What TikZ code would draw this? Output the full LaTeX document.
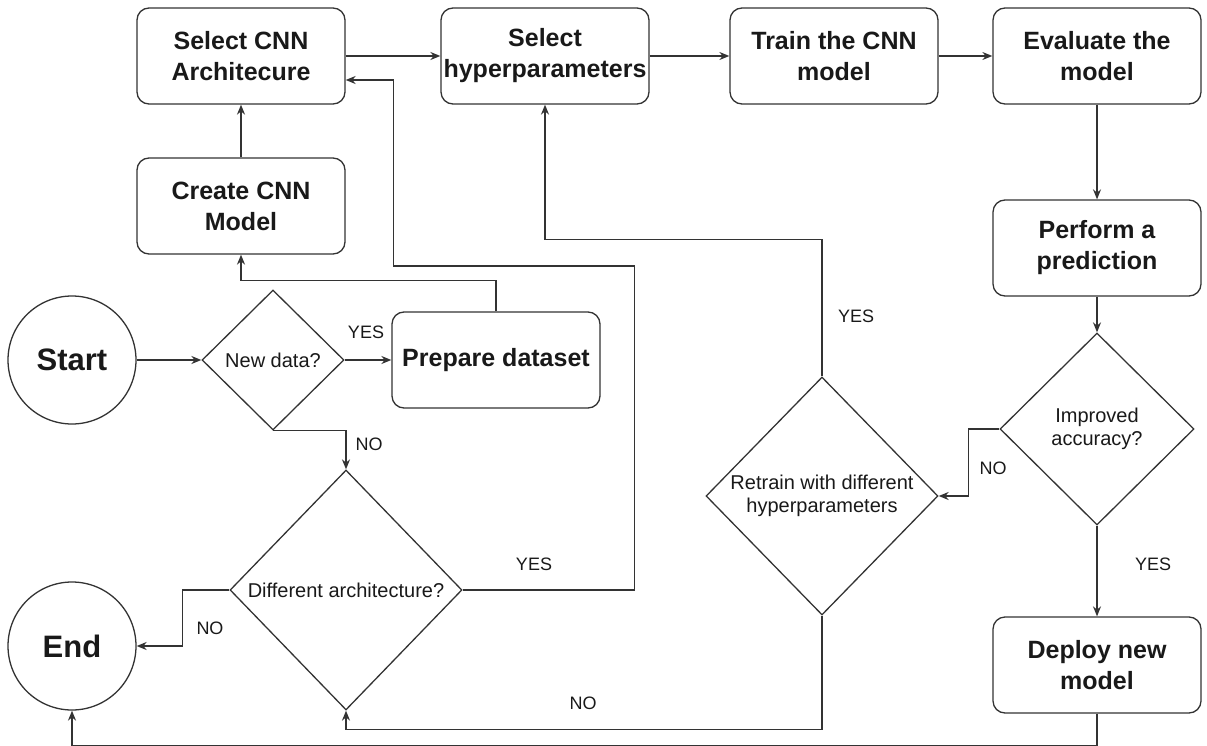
\documentclass[tikz,border=0pt]{standalone}
\usepackage{fontspec}
\setmainfont{Liberation Sans}
\usetikzlibrary{shapes.geometric,arrows.meta,calc}
\begin{document}
\begin{tikzpicture}[x=1pt,y=-1pt,
  line width=1.3pt,
  every node/.style={text=black!90},
  proc/.style={draw=black!80, rounded corners=12pt, minimum width=208pt, minimum height=96pt,
    align=center, font=\fontsize{25}{31}\selectfont\bfseries, inner sep=0pt},
  term/.style={draw=black!80, circle, minimum size=128pt, inner sep=0pt,
    font=\fontsize{31}{37}\selectfont\bfseries},
  dec/.style={draw=black!80, diamond, inner sep=0pt},
  dectext/.style={align=center, font=\fontsize{20}{23}\selectfont},
  lbl/.style={font=\fontsize{18}{22}\selectfont},
  flow/.style={draw=black!80, -{Stealth[length=10pt,width=8pt]}},
]
\useasboundingbox (0,0) rectangle (1207,746);

% process boxes
\node[proc] (selarch) at (241,56)  {Select CNN\\Architecure};
\node[proc] (selhyp)  at (545,56)  {Select\\hyperparameters};
\node[proc] (train)   at (834,56)  {Train the CNN\\model};
\node[proc] (eval)    at (1097,56) {Evaluate the\\model};
\node[proc] (create)  at (241,206) {Create CNN\\Model};
\node[proc] (perform) at (1097,248) {Perform a\\prediction};
\node[proc] (prep)    at (496,360) {Prepare dataset};
\node[proc] (deploy)  at (1097,665) {Deploy new\\model};

% terminals
\node[term] (start) at (72,360) {Start};
\node[term] (end)   at (72,646) {End};

% decisions
\node[dec, minimum width=142pt, minimum height=140pt] (newd) at (273,360) {};
\node[dectext] (newdt) at (newd) {New data?};
\node[dec, minimum width=232pt, minimum height=240pt] (diff) at (346,590) {};
\node[dectext] (difft) at (diff) {Different architecture?};
\node[dec, minimum width=194pt, minimum height=192pt] (impr) at (1097,429) {};
\node[dectext] (imprt) at (impr) {Improved\\accuracy?};
\node[dec, minimum width=232pt, minimum height=238pt] (retrain) at (822,496) {};
\node[dectext] (retraint) at (retrain) {Retrain with different\\hyperparameters};

% connectors
\draw[flow] (start) -- (newd);
\draw[flow] (newd) -- (prep);
\draw[flow] (newd.south) -| (diff.north);
\draw[flow] (prep.north) -- ++(0,-31) -| (create.south);
\draw[flow] (create) -- (selarch);
\draw[flow] (selarch) -- (selhyp);
\draw[flow] (selhyp) -- (train);
\draw[flow] (train) -- (eval);
\draw[flow] (eval) -- (perform);
\draw[flow] (perform) -- (impr);
\draw[flow] (impr) -- (deploy);
\draw[flow] (impr.west) -- ++(-31,0) |- (retrain.east);
\draw[flow] (retrain.north) -- ++(0,-137) -| (selhyp.south);
\draw[flow] (retrain.south) -- ++(0,114) -| (diff.south);
\draw[flow] (diff.east) -| ++(172,-324) -| ($(selarch.east)+(48,24)$) -- ($(selarch.east)+(0,24)$);
\draw[flow] (diff.west) -- ++(-47,0) |- (end.east);
\draw[flow] (deploy.south) -- ++(0,32) -| (end.south);

% branch labels
\node[lbl] (lyes1) at (366,332) {YES};
\node[lbl] (lno1)  at (369,444) {NO};
\node[lbl] (lyes2) at (534,564) {YES};
\node[lbl] (lno2)  at (210,628) {NO};
\node[lbl] (lyes3) at (856,316) {YES};
\node[lbl] (lno3)  at (993,468) {NO};
\node[lbl] (lyes4) at (1153,564) {YES};
\node[lbl] (lno4)  at (583,703) {NO};
\end{tikzpicture}
\end{document}
